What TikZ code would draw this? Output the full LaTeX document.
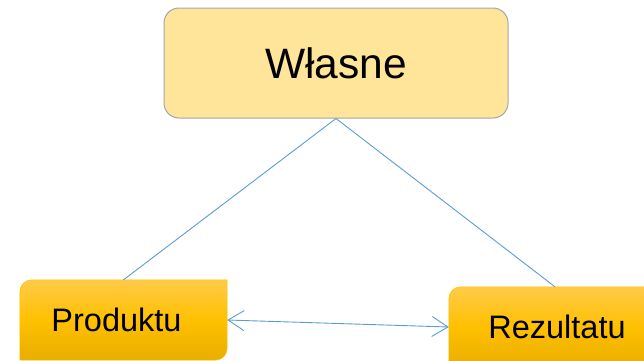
\documentclass[tikz,border=0pt]{standalone}
\usepackage{fontspec}
\setmainfont{Liberation Sans}
\usetikzlibrary{arrows.meta,backgrounds}
\definecolor{lightgold}{RGB}{255,229,153}
\definecolor{boxgray}{RGB}{166,166,166}
\definecolor{goldtop}{RGB}{255,203,72}
\definecolor{goldmid}{RGB}{255,192,0}
\definecolor{goldbot}{RGB}{232,174,0}
\definecolor{linkblue}{RGB}{91,155,213}
\begin{document}
\begin{tikzpicture}[x=1pt,y=1pt,
    topbox/.style={rectangle,rounded corners=15pt,fill=lightgold,draw=boxgray,line width=1pt,
      minimum width=344pt,minimum height=110pt,font=\fontsize{42.5}{50}\selectfont},
    goldbox/.style={rectangle,minimum height=80pt,inner sep=0pt,font=\fontsize{32.5}{38}\selectfont},
    link/.style={linkblue,line width=0.9pt}]
  \useasboundingbox (0,0) rectangle (644,360);

  % Draw the boxes
  \node[topbox] (wlasne) at (336,297) {Własne};
  \node[goldbox,minimum width=207pt] (prod) at (123.5,40) {\hspace*{-14pt}Produktu};
  \node[goldbox,minimum width=212pt] (rez) at (555,33) {\hspace*{4pt}Rezultatu};

  % Fill the lower boxes
  \begin{scope}[on background layer]
    \clip (0,0) rectangle (644,360);
    \foreach \n in {prod,rez}
      \shadedraw[top color=goldtop,bottom color=goldbot,middle color=goldmid,draw=goldmid,line width=0.5pt]
        (\n.south west) -- ([yshift=-12pt]\n.north west) arc[start angle=180,end angle=90,radius=12pt]
        -- (\n.north east) -- ([yshift=12pt]\n.south east) arc[start angle=0,end angle=-90,radius=12pt] -- cycle;
  \end{scope}

  % Draw the links
  \draw[link] (wlasne.south) -- (prod.north);
  \draw[link] (wlasne.south) -- (rez.north);
  \draw[link,{Straight Barb[length=16pt,width=20pt]}-{Straight Barb[length=16pt,width=20pt]}] (prod.east) -- (rez.west);
\end{tikzpicture}
\end{document}
